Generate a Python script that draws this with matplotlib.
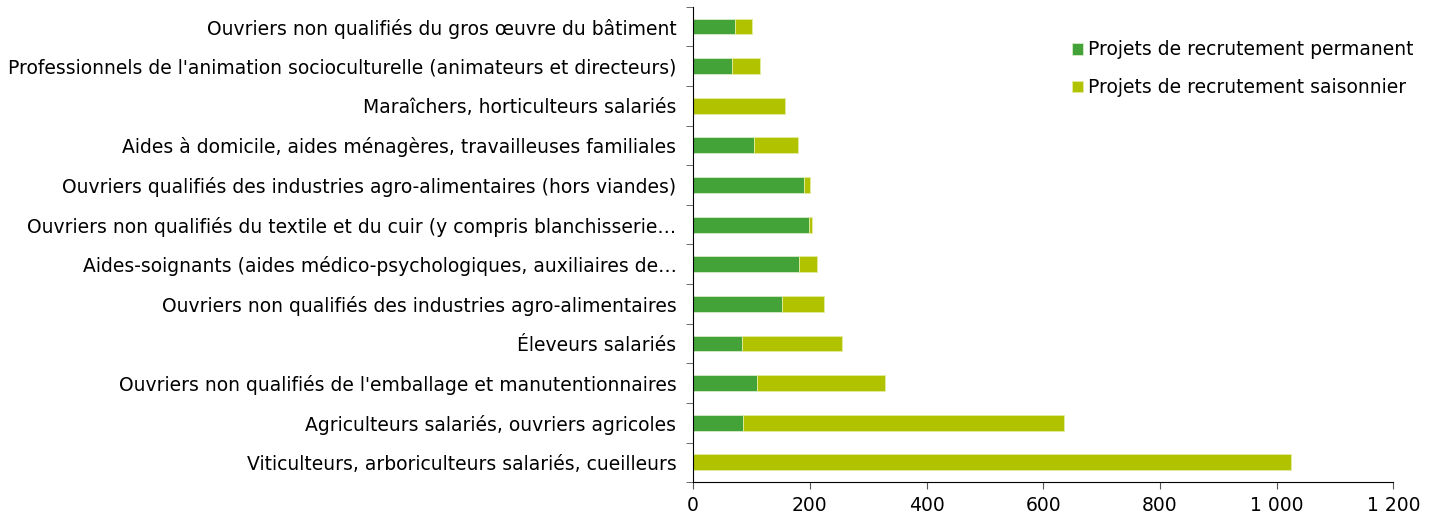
import numpy as np
import matplotlib
matplotlib.use('Agg')
import matplotlib.pyplot as plt
from matplotlib.ticker import FuncFormatter, MultipleLocator

plt.rcParams['font.family'] = ['DejaVu Sans']

# categories, bottom to top
metiers = [
    'Viticulteurs, arboriculteurs salariés, cueilleurs',
    'Agriculteurs salariés, ouvriers agricoles',
    "Ouvriers non qualifiés de l'emballage et manutentionnaires",
    'Éleveurs salariés',
    'Ouvriers non qualifiés des industries agro-alimentaires',
    'Aides-soignants (aides médico-psychologiques, auxiliaires de…',
    'Ouvriers non qualifiés du textile et du cuir (y compris blanchisserie…',
    'Ouvriers qualifiés des industries agro-alimentaires (hors viandes)',
    'Aides à domicile, aides ménagères, travailleuses familiales',
    'Maraîchers, horticulteurs salariés',
    "Professionnels de l'animation socioculturelle (animateurs et directeurs)",
    'Ouvriers non qualifiés du gros œuvre du bâtiment',
]
permanent = [0, 85, 109, 84, 152, 181, 199, 190, 105, 0, 67, 72]
saisonnier = [1025, 551, 219, 172, 72, 31, 4, 10, 74, 157, 48, 29]

c_perm = '#43a338'
c_sais = '#b0c200'
fs = 13.5

fig = plt.figure(figsize=(14.35, 5.19), dpi=100)
ax = fig.add_axes([0.483, 0.071, 0.488, 0.916])

y = np.arange(len(metiers))
ax.barh(y, permanent, height=0.4, color=c_perm, edgecolor='#d8ecc8', linewidth=0.6,
        label='Projets de recrutement permanent')
ax.barh(y, saisonnier, left=permanent, height=0.4, color=c_sais, edgecolor='#e4eca0',
        linewidth=0.6, label='Projets de recrutement saisonnier')

ax.set_xlim(0, 1200)
ax.set_ylim(-0.5, len(metiers) - 0.5)
ax.xaxis.set_major_locator(MultipleLocator(200))
ax.xaxis.set_major_formatter(FuncFormatter(lambda v, p: '{:,.0f}'.format(v).replace(',', ' ')))

# category labels centred, tick marks between categories (excel style)
ax.set_yticks(y)
ax.set_yticklabels(metiers, fontsize=fs)
ax.tick_params(axis='y', which='major', length=0, pad=12)
ax.set_yticks(np.arange(-0.5, len(metiers), 1), minor=True)
ax.tick_params(axis='y', which='minor', length=5, color='#555555')
ax.tick_params(axis='x', length=5, color='#555555', labelsize=fs, pad=5)

for s in ['top', 'right']:
    ax.spines[s].set_visible(False)
ax.spines['left'].set_color('black')
ax.spines['bottom'].set_color('black')

leg = ax.legend(loc='upper left', bbox_to_anchor=(0.53, 0.945), frameon=False,
                fontsize=fs, handlelength=0.6, handleheight=0.6,
                handletextpad=0.25, labelspacing=1.0, borderaxespad=0)

plt.savefig('out.png', dpi=100)
